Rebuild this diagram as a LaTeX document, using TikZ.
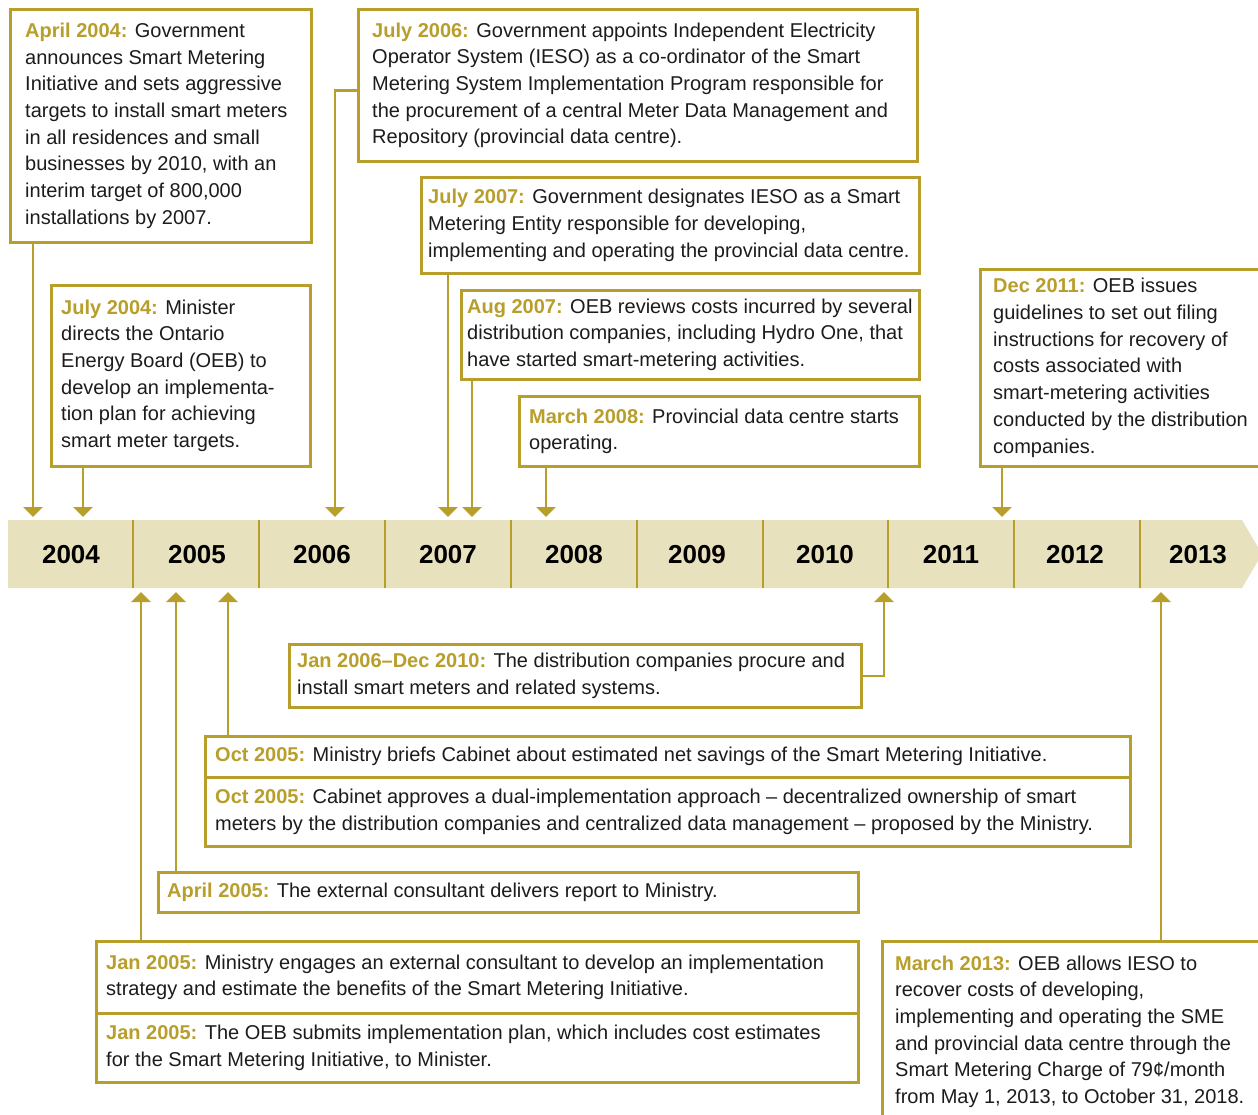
\documentclass[tikz,border=0pt]{standalone}
\usepackage{fontspec}
\setmainfont{Liberation Sans}
\usetikzlibrary{arrows.meta,calc}
\definecolor{gold}{RGB}{184,158,42}
\definecolor{barfill}{RGB}{232,225,190}
\definecolor{ink}{RGB}{28,28,28}
\newcommand{\dt}[1]{\textbf{\color{gold}#1}}
\newcommand{\evb}[7]{%
  \node[evbox,minimum width={#4-#2},minimum height={#5-#3}] (#1) at (#2,#3) {};
  \node[evtext] (#1t) at ([xshift=#6pt]#1.west) {#7};}
\begin{document}
\begin{tikzpicture}[x=1pt,y=-1pt,
  evbox/.style={draw=gold,line width=2.5pt,fill=white,rectangle,inner sep=0pt,anchor=north west},
  evtext/.style={anchor=west,align=left,inner sep=0pt,text=ink,font=\fontsize{20}{26.7}\selectfont},
  conn/.style={draw=gold,line width=2.5pt,arrows={-Triangle[width=19pt,length=10pt]}},
  year/.style={font=\fontsize{26}{30}\selectfont\bfseries,text=black},
  divider/.style={draw=gold,line width=2pt}]
\clip (0,0) rectangle (1258,1114);
\fill[white] (0,0) rectangle (1258,1114);

% timeline bar
\fill[barfill] (8,520) -- (1242,520) -- (1262,554) -- (1242,588) -- (8,588) -- cycle;
\foreach \x in {133,259,385,511,637,763,888,1014,1140}
  \draw[divider] (\x,520) -- (\x,588);
\node[year] (y2004) at (71,555) {2004};
\node[year] (y2005) at (197,555) {2005};
\node[year] (y2006) at (322,555) {2006};
\node[year] (y2007) at (448,555) {2007};
\node[year] (y2008) at (574,555) {2008};
\node[year] (y2009) at (697,555) {2009};
\node[year] (y2010) at (825,555) {2010};
\node[year] (y2011) at (951,555) {2011};
\node[year] (y2012) at (1075,555) {2012};
\node[year] (y2013) at (1198,555) {2013};
\coordinate (bartop) at (0,517);
\coordinate (barbot) at (0,592);

% boxes above
\evb{A}{9}{8}{310}{241}{16}{\dt{April 2004:} Government\\announces Smart Metering\\Initiative and sets aggressive\\targets to install smart meters\\in all residences and small\\businesses by 2010, with an\\interim target of 800,000\\installations by 2007.}
\evb{B}{50}{284}{309}{465}{11}{\dt{July 2004:} Minister\\directs the Ontario\\Energy Board (OEB) to\\develop an implementa-\\tion plan for achieving\\smart meter targets.}
\evb{C}{357}{8}{916}{160}{15}{\dt{July 2006:} Government appoints Independent Electricity\\Operator System (IESO) as a co-ordinator of the Smart\\Metering System Implementation Program responsible for\\the procurement of a central Meter Data Management and\\Repository (provincial data centre).}
\evb{D}{420}{176}{918}{272}{8}{\dt{July 2007:} Government designates IESO as a Smart\\Metering Entity responsible for developing,\\implementing and operating the provincial data centre.}
\evb{E}{460}{289}{918}{378}{7}{\dt{Aug 2007:} OEB reviews costs incurred by several\\distribution companies, including Hydro One, that\\have started smart-metering activities.}
\evb{F}{518}{395}{918}{465}{11}{\dt{March 2008:} Provincial data centre starts\\operating.}
\evb{G}{979}{268}{1272}{465}{14}{\dt{Dec 2011:} OEB issues\\guidelines to set out filing\\instructions for recovery of\\costs associated with\\smart-metering activities\\conducted by the distribution\\companies.}

% boxes below
\evb{H}{288}{643}{860}{706}{9}{\dt{Jan 2006–Dec 2010:} The distribution companies procure and\\install smart meters and related systems.}
\evb{I1}{204}{735}{1129}{776}{11}{\dt{Oct 2005:} Ministry briefs Cabinet about estimated net savings of the Smart Metering Initiative.}
\evb{I2}{204}{776}{1129}{845}{11}{\dt{Oct 2005:} Cabinet approves a dual-implementation approach – decentralized ownership of smart\\meters by the distribution companies and centralized data management – proposed by the Ministry.}
\evb{J}{157}{871}{857}{911}{10}{\dt{April 2005:} The external consultant delivers report to Ministry.}
\evb{K1}{95}{940}{857}{1012}{11}{\dt{Jan 2005:} Ministry engages an external consultant to develop an implementation\\strategy and estimate the benefits of the Smart Metering Initiative.}
\evb{K2}{95}{1012}{857}{1081}{11}{\dt{Jan 2005:} The OEB submits implementation plan, which includes cost estimates\\for the Smart Metering Initiative, to Minister.}
\evb{L}{881}{940}{1272}{1121}{14}{\dt{March 2013:} OEB allows IESO to\\recover costs of developing,\\implementing and operating the SME\\and provincial data centre through the\\Smart Metering Charge of 79¢/month\\from May 1, 2013, to October 31, 2018.}

% connectors above
\coordinate (a1) at ([xshift=24pt]A.south west);
\draw[conn] (a1) -- (a1 |- bartop);
\coordinate (b1) at ([xshift=33pt]B.south west);
\draw[conn] (b1) -- (b1 |- bartop);
\coordinate (c1) at ([yshift=-5pt]C.west);
\coordinate (cend) at (335,517);
\draw[conn] (c1) -| (cend);
\coordinate (d1) at ([xshift=28pt]D.south west);
\draw[conn] (d1) -- (d1 |- bartop);
\coordinate (e1) at ([xshift=12pt]E.south west);
\draw[conn] (e1) -- (e1 |- bartop);
\coordinate (f1) at ([xshift=28pt]F.south west);
\draw[conn] (f1) -- (f1 |- bartop);
\coordinate (g1) at ([xshift=23pt]G.south west);
\draw[conn] (g1) -- (g1 |- bartop);

% connectors below
\coordinate (hend) at (884,592);
\draw[conn] (H.east) -| (hend);
\coordinate (i1) at ([xshift=24pt]I1.north west);
\draw[conn] (i1) -- (i1 |- barbot);
\coordinate (j1) at ([xshift=19pt]J.north west);
\draw[conn] (j1) -- (j1 |- barbot);
\coordinate (k1) at ([xshift=46pt]K1.north west);
\draw[conn] (k1) -- (k1 |- barbot);
\coordinate (l1) at ([xshift=280pt]L.north west);
\draw[conn] (l1) -- (l1 |- barbot);
\end{tikzpicture}
\end{document}
